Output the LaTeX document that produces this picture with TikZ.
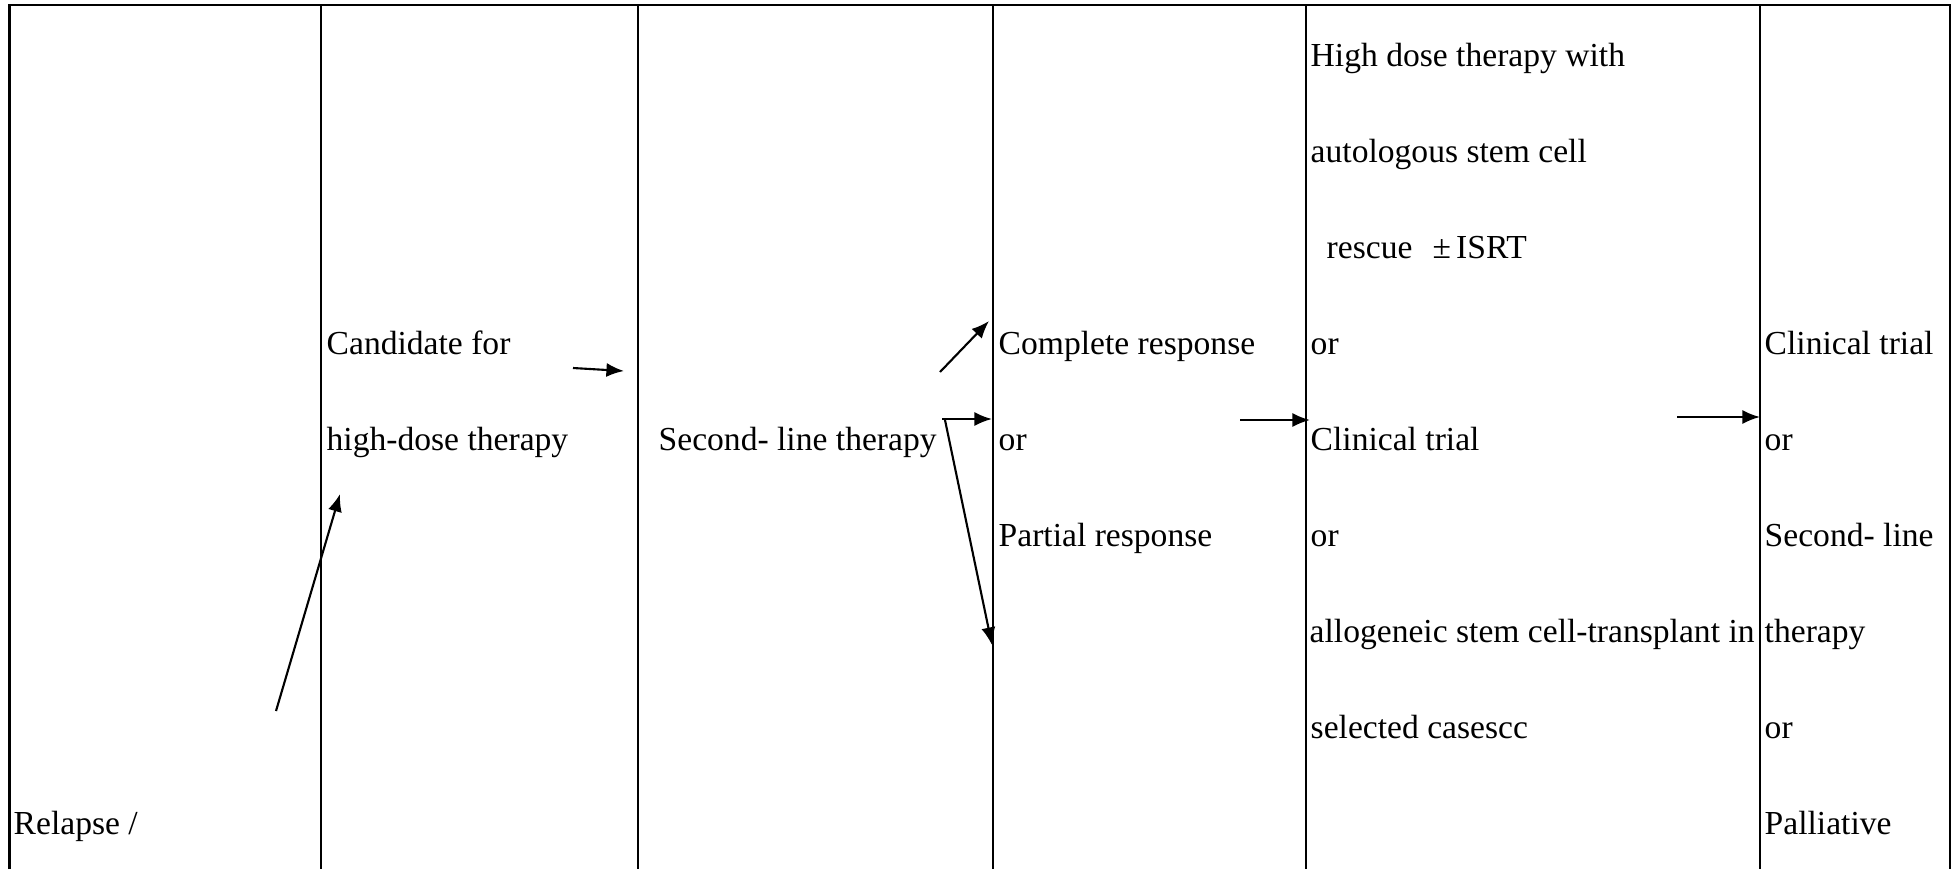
\documentclass[tikz,border=0pt]{standalone}
\usepackage{fontspec}
\setmainfont{Liberation Serif}
\usetikzlibrary{arrows.meta}
\begin{document}
\begin{tikzpicture}[x=0.01cm,y=-0.01cm,
  rule/.style={line width=0.6pt},
  flow/.style={line width=0.6pt,-{Latex[length=5pt,width=4pt]}},
  cell/.style={anchor=base west,inner sep=0pt,font=\fontsize{9.55}{11}\selectfont}]
\useasboundingbox (0,0) rectangle (1957,869);
% table frame, open at the bottom
\draw[rule] (9.5,869) |- (1950,5) -- (1950,869);
\foreach \x in {321,638,993,1306,1760} \draw[rule] (\x,5) -- (\x,869);

% column 1
\node[cell] (relapse) at (13,834) {Relapse /};
% column 2
\node[cell] (cand1) at (326,354) {Candidate for};
\node[cell] (cand2) at (326,450) {high-dose therapy};
% column 3
\node[cell] (second) at (658,450) {Second- line therapy};
% column 4
\node[cell] (cr) at (998,354) {Complete response};
\node[cell] (or1) at (998,450) {or};
\node[cell] (pr) at (998,546) {Partial response};
% column 5
\node[cell] (hdt1) at (1310,66) {High dose therapy with};
\node[cell] (hdt2) at (1310,162) {autologous stem cell};
\node[cell] (hdt3) at (1326,258) {rescue\hspace{5.7pt}±\hspace{1.5pt}ISRT};
\node[cell] (or2) at (1310,354) {or};
\node[cell] (ct1) at (1310,450) {Clinical trial};
\node[cell] (or3) at (1310,546) {or};
\node[cell] (allo1) at (1309,642) {allogeneic stem cell-transplant in};
\node[cell] (allo2) at (1310,738) {selected casescc};
% column 6
\node[cell] (ct2) at (1764,354) {Clinical trial};
\node[cell] (or4) at (1764,450) {or};
\node[cell] (sl1) at (1764,546) {Second- line};
\node[cell] (sl2) at (1764,642) {therapy};
\node[cell] (or5) at (1764,738) {or};
\node[cell] (pal) at (1764,834) {Palliative};

% arrow end points
\coordinate (a1s) at (276,711);  \coordinate (a1e) at (340,494);
\coordinate (a2s) at (573,368);  \coordinate (a2e) at (624,371);
\coordinate (a3s) at (940,372);  \coordinate (a3e) at (989,321);
\coordinate (a4s) at (942,419);  \coordinate (a4e) at (992,419);
\coordinate (a5s) at (945,420);  \coordinate (a5e) at (992,645);
\coordinate (a6s) at (1240,420); \coordinate (a6e) at (1310,420);
\coordinate (a7s) at (1677,417); \coordinate (a7e) at (1760,417);

\draw[flow] (a1s) -- (a1e);
\draw[flow] (a2s) -- (a2e);
\draw[flow] (a3s) -- (a3e);
\draw[flow] (a4s) -- (a4e);
\draw[flow] (a5s) -- (a5e);
\draw[flow] (a6s) -- (a6e);
\draw[flow] (a7s) -- (a7e);
\end{tikzpicture}
\end{document}
